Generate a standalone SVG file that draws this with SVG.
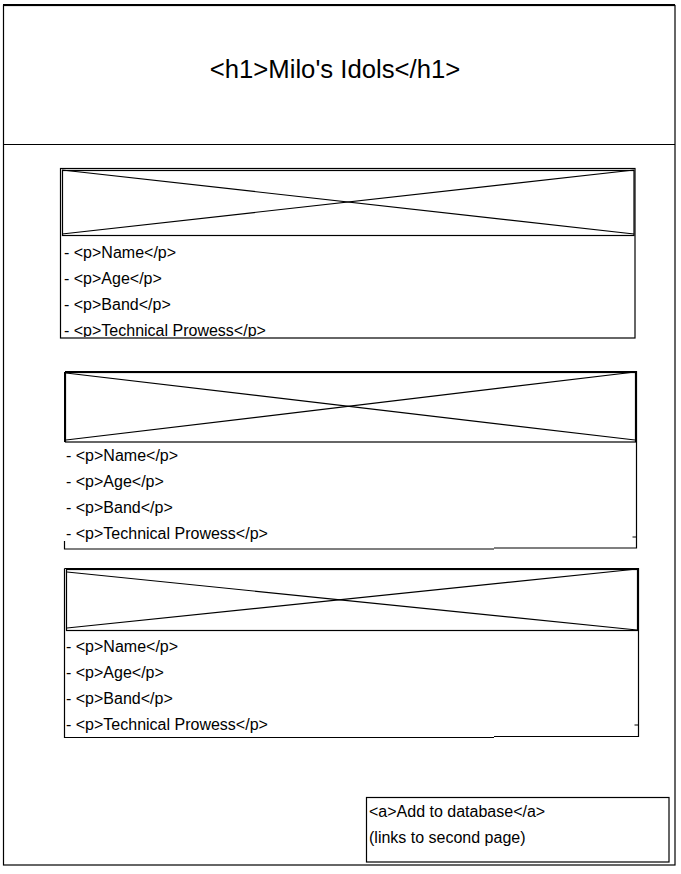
<svg xmlns="http://www.w3.org/2000/svg" width="681" height="874" viewBox="0 0 681 874">
<style>
.ln{fill:none;stroke:#000;stroke-width:1.2}
.thick{fill:none;stroke:#000;stroke-width:2}
.t{font-family:"Liberation Sans",Arial,sans-serif;font-size:16px;fill:#000}
.h{font-family:"Liberation Sans",Arial,sans-serif;font-size:25.7px;fill:#000}
</style>
<defs>
<clipPath id="clip1"><rect x="60" y="236" width="575" height="101"/></clipPath>
</defs>
<rect width="681" height="874" fill="#fff"/>
<g id="page">
<rect class="ln" x="3.5" y="5.5" width="671.5" height="859.5"/>
<line class="thick" x1="3" y1="5" x2="675" y2="5"/>
</g>
<g id="header">
<line class="ln" x1="3.5" y1="144.5" x2="675" y2="144.5"/>
<text class="h" x="335" y="78" text-anchor="middle">&lt;h1&gt;Milo's Idols&lt;/h1&gt;</text>
</g>
<g id="card1">
<rect class="ln" x="60.5" y="168.5" width="574.5" height="169.5"/>
<rect class="ln" x="62.5" y="170.5" width="571.5" height="65"/>
<line class="ln" x1="62" y1="170" x2="634" y2="234"/>
<line class="ln" x1="62" y1="234" x2="634" y2="170"/>
<g clip-path="url(#clip1)">
<text class="t" x="64" y="258">- &lt;p&gt;Name&lt;/p&gt;</text>
<text class="t" x="64" y="284">- &lt;p&gt;Age&lt;/p&gt;</text>
<text class="t" x="64" y="310">- &lt;p&gt;Band&lt;/p&gt;</text>
<text class="t" x="64" y="336">- &lt;p&gt;Technical Prowess&lt;/p&gt;</text>
</g>
</g>
<g id="card2">
<path class="ln" d="M65,371.5 H636.5 V537 M632.5,537 H636.5 V548 H494 M494,549 H64.5 V541"/>
<line class="thick" x1="65" y1="372" x2="65" y2="442"/>
<rect class="ln" x="65.5" y="372.5" width="570" height="69.5"/>
<line class="ln" x1="66" y1="373" x2="635" y2="440"/>
<line class="ln" x1="66" y1="440" x2="635" y2="372"/>
<text class="t" x="66" y="461">- &lt;p&gt;Name&lt;/p&gt;</text>
<text class="t" x="66" y="487">- &lt;p&gt;Age&lt;/p&gt;</text>
<text class="t" x="66" y="513">- &lt;p&gt;Band&lt;/p&gt;</text>
<text class="t" x="66" y="539">- &lt;p&gt;Technical Prowess&lt;/p&gt;</text>
</g>
<g id="card3">
<path class="ln" d="M64.5,568.5 H638.5 V725 M634.5,725 H638.5 V736.5 H494 M494,737.5 H64.5 V568.5"/>
<rect class="ln" x="66.5" y="569.5" width="571" height="61"/>
<line class="thick" x1="638" y1="569" x2="638" y2="631"/>
<line class="ln" x1="67" y1="572" x2="637" y2="630"/>
<line class="ln" x1="67" y1="628" x2="637" y2="569"/>
<text class="t" x="66" y="652">- &lt;p&gt;Name&lt;/p&gt;</text>
<text class="t" x="66" y="678">- &lt;p&gt;Age&lt;/p&gt;</text>
<text class="t" x="66" y="704">- &lt;p&gt;Band&lt;/p&gt;</text>
<text class="t" x="66" y="730">- &lt;p&gt;Technical Prowess&lt;/p&gt;</text>
</g>
<g id="link-box">
<rect class="ln" x="366.5" y="797.5" width="302.5" height="64.5"/>
<text class="t" x="369" y="817">&lt;a&gt;Add to database&lt;/a&gt;</text>
<text class="t" x="369" y="843">(links to second page)</text>
</g>
<g id="connectors"></g>
</svg>
